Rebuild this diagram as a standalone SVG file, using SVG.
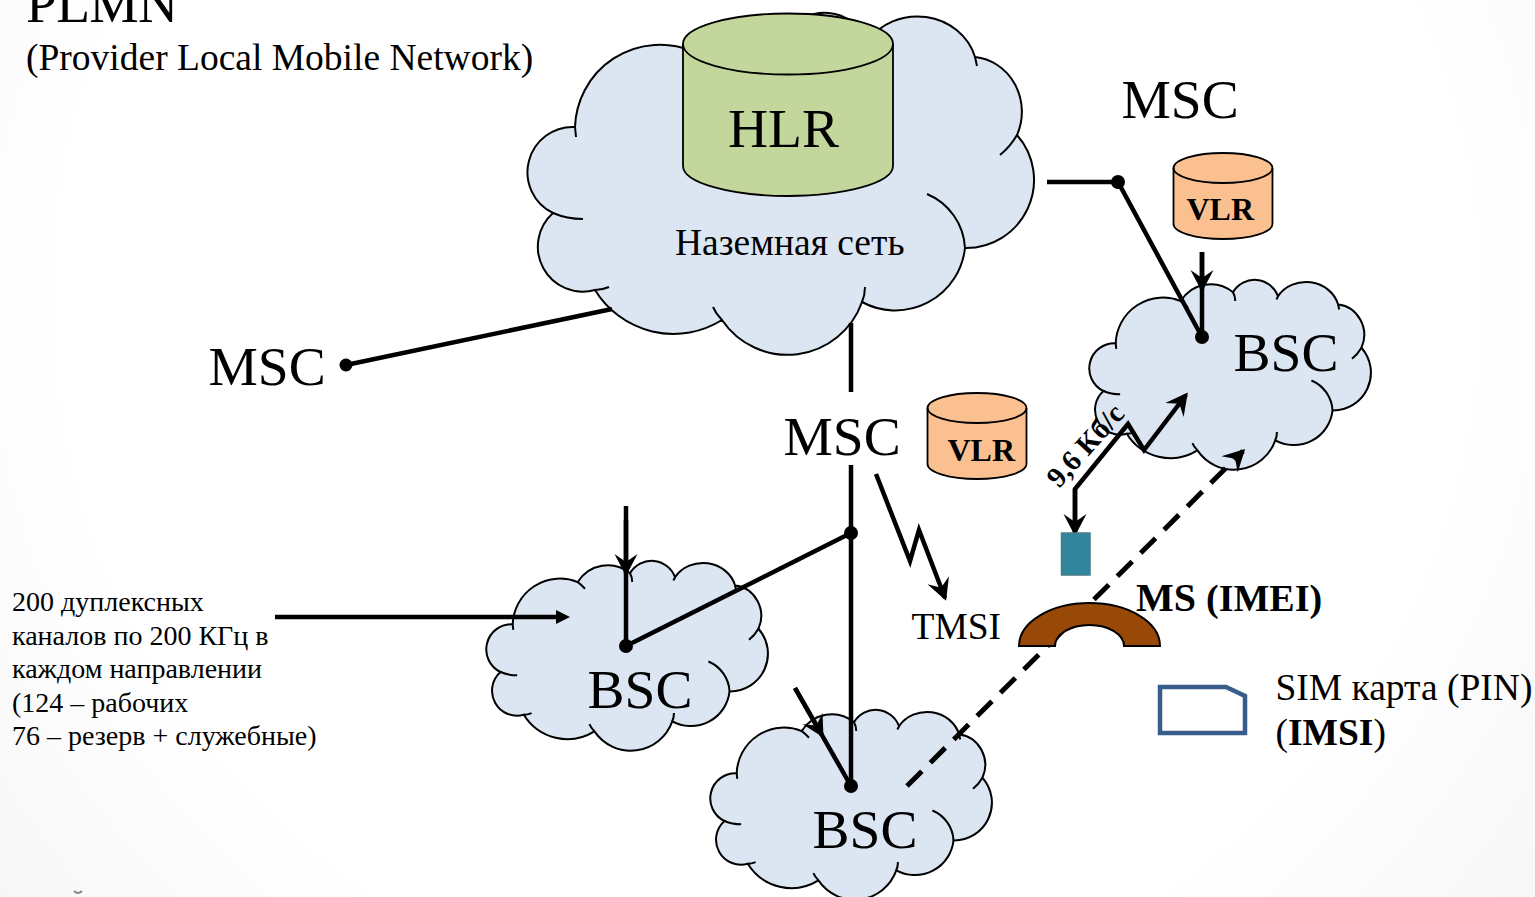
<svg xmlns="http://www.w3.org/2000/svg" xmlns:xlink="http://www.w3.org/1999/xlink" width="1535" height="897" viewBox="0 0 1535 897">
<style>
text{font-family:"Liberation Serif","Times New Roman",serif;fill:#000}
.big{font-size:55.500px}.mid{font-size:37.500px}.sm{font-size:28px}.b{font-weight:bold}
.cf{fill:#dce6f2;stroke:#000;stroke-width:2;vector-effect:non-scaling-stroke}
.ct{fill:none;stroke:#000;stroke-width:2;vector-effect:non-scaling-stroke}
.ln{fill:none;stroke:#000;stroke-width:4.500}
.ah{marker-end:url(#st)}
.dot{fill:#000}
.cyl{stroke:#000;stroke-width:1.800}
</style>
<defs>
<marker id="st" markerUnits="userSpaceOnUse" viewBox="-24 -12 24 24" refX="-3" refY="0" markerWidth="24" markerHeight="24" orient="auto"><path d="M0,0L-22,-11.500L-14,0L-22,11.500Z" fill="#000"/></marker>
<radialGradient id="bg" gradientUnits="userSpaceOnUse" cx="767" cy="300" r="1000"><stop offset=".7" stop-color="#fff"/><stop offset="1" stop-color="#f6f6f6"/></radialGradient>
<g id="cloud">
<path class="cf" d="M575,127A85,85 0 0 1 692,51A63,63 0 0 1 786,35A45,45 0 0 1 867,42A60,56 0 0 1 975,57A52,55 0 0 1 1017,135A68,68 0 0 1 965,248A70,70 0 0 1 862,302A79,79 0 0 1 722,320A92,92 0 0 1 595,290A45,45 0 0 1 553,213A45.300,45.300 0 0 1 575,127Z"/>
<path class="ct" d="M975,57L977,66M1017,135Q1010,147 1000,155M927,194A62,62 0 0 1 965,248M862,302Q865,295 865,287M713,307Q716,314 722,320M595,290Q602,290 609,287M553,213Q567,219 583,219M575,127L576,137M692,51Q699,56 705,63M786,35Q790,42 790,51M867,42L864,48"/>
</g>
</defs>
<rect width="1535" height="897" fill="url(#bg)"/>
<path d="M74,891Q78,895 82,891" fill="none" stroke="#888" stroke-width="2"/>
<g id="title"><text class="big" x="26" y="22" textLength="152">PLMN</text><text class="mid" x="26" y="70">(Provider Local Mobile Network)</text></g>
<g id="ground-network"><use xlink:href="#cloud" href="#cloud"/><text class="mid" x="675" y="255">Наземная сеть</text></g>
<g id="hlr"><path class="cyl" fill="#c3d69b" d="M683,44A105,30.5 0 0 1 893,44V166A105,30 0 0 1 683,166Z"/><path fill="none" class="cyl" d="M683,44A105,30.5 0 0 0 893,44"/><text class="big" x="728" y="147">HLR</text></g>
<g id="bsc-left"><use xlink:href="#cloud" href="#cloud" transform="translate(193,553.8) scale(.556,.555)"/><text class="big" x="587.500" y="708">BSC</text></g>
<g id="bsc-bottom"><use xlink:href="#cloud" href="#cloud" transform="translate(417,702.8) scale(.556,.555)"/><text class="big" x="812.500" y="848">BSC</text></g>
<g id="bsc-right"><use xlink:href="#cloud" href="#cloud" transform="translate(796,272.8) scale(.556,.555)"/><text class="big" x="1233.500" y="371">BSC</text></g>
<g id="connectors">
<path class="ln" d="M346,365L612,309"/>
<circle class="dot" cx="346" cy="365" r="6.500"/>
<path class="ln" d="M851,323V392M851,465V786M851,533L626,646"/>
<circle class="dot" cx="851" cy="533" r="7"/>
<circle class="dot" cx="626" cy="646" r="7"/>
<path class="ln" d="M626,506V646"/>
<path class="ln ah" d="M626,520V573"/>
<path class="ln" d="M275,617H556"/><path d="M570,617L556,610V624Z" fill="#000"/>
<path class="ln" d="M795,688L851,786"/>
<path class="ln ah" d="M795,688L822,735"/>
<circle class="dot" cx="851" cy="786" r="7"/>
<path class="ln" d="M1047,182H1118L1202,337V252"/>
<path class="ln ah" d="M1202,252V289"/>
<circle class="dot" cx="1118" cy="182" r="7"/>
<circle class="dot" cx="1202" cy="337" r="7"/>
<path class="ln ah" d="M876,474L910,561L919,530L945,598"/>
<path class="ln ah" d="M1075,532V489L1128,424L1144,450L1186,395"/>
<path class="ln ah" d="M1075,489V533"/>
<path class="ln ah" style="stroke-width:5" d="M907,786L1243,451" stroke-dasharray="21 12"/>
</g>
<g id="msc-left"><text class="big" x="208.500" y="385">MSC</text></g>
<g id="msc-center"><text class="big" x="783.500" y="455">MSC</text></g>
<g id="msc-right"><text class="big" x="1121.500" y="118">MSC</text></g>
<g id="vlr-right"><path class="cyl" fill="#fac090" d="M1173.500,168A49.500,15 0 0 1 1272.500,168V224A49.500,15 0 0 1 1173.500,224Z"/><path fill="none" class="cyl" d="M1173.500,168A49.500,15 0 0 0 1272.500,168"/><text class="b" font-size="32" x="1186.500" y="220">VLR</text></g>
<g id="vlr-center"><path class="cyl" fill="#fac090" d="M927.500,408A49.500,15 0 0 1 1026.500,408V464A49.500,15 0 0 1 927.500,464Z"/><path fill="none" class="cyl" d="M927.500,408A49.500,15 0 0 0 1026.500,408"/><text class="b" font-size="32" x="947.500" y="461">VLR</text></g>
<g id="tmsi"><text class="mid" x="911.500" y="639">TMSI</text></g>
<g id="rate"><text class="b" font-size="29" transform="translate(1059,489) rotate(-48)">9,6 Кб/с</text></g>
<g id="phone"><rect x="1061.500" y="533" width="28.500" height="42" fill="#31859c" stroke="#4a7c8c" stroke-width="1.500"/></g>
<g id="ms-body"><path d="M1019,646A70.500,43 0 0 1 1160,646H1124A34.500,21 0 0 0 1055,646Z" fill="#984807" stroke="#000" stroke-width="2"/><text class="b" x="1136" y="611"><tspan font-size="40">MS </tspan><tspan font-size="38">(IMEI)</tspan></text></g>
<g id="sim"><path d="M1160,687H1226L1245,696V733H1160Z" fill="none" stroke="#385d8a" stroke-width="4.500"/><text class="mid" x="1275.500" y="700">SIM карта (PIN)</text><text class="mid" x="1275.500" y="745">(<tspan class="b">IMSI</tspan>)</text></g>
<g id="channels">
<text class="sm" x="12" y="611">200 дуплексных</text>
<text class="sm" x="12" y="645">каналов по 200 КГц в</text>
<text class="sm" x="12" y="678">каждом направлении</text>
<text class="sm" x="12" y="712">(124 – рабочих</text>
<text class="sm" x="12" y="745">76 – резерв + служебные)</text>
</g>
</svg>
